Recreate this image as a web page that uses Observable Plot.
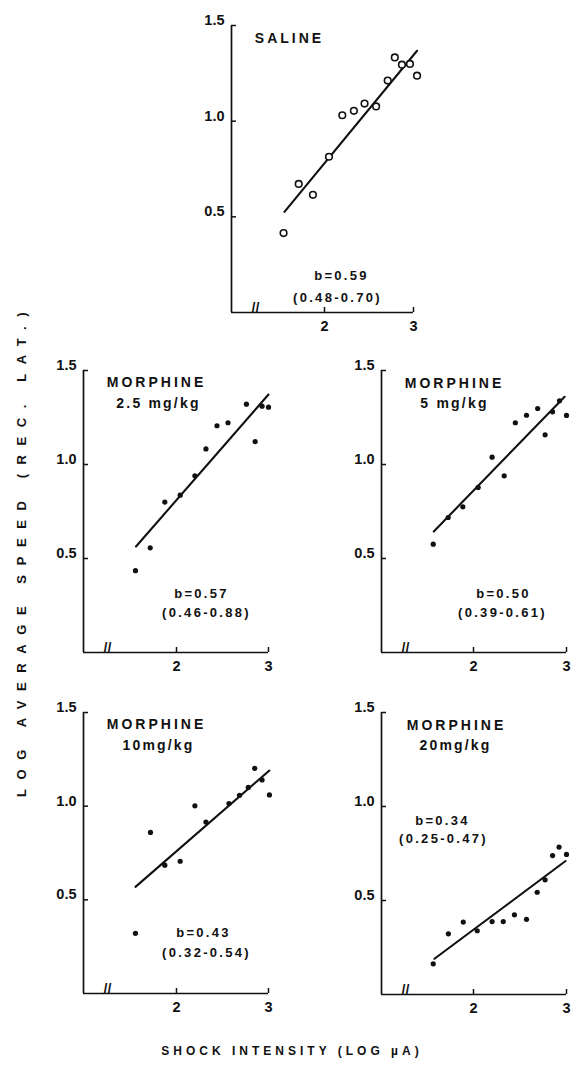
<!DOCTYPE html>
<html><head><meta charset="utf-8">
<script src="https://cdn.jsdelivr.net/npm/d3@7"></script>
<script src="https://cdn.jsdelivr.net/npm/@observablehq/plot@0.6"></script>
<style>
html,body{margin:0;padding:0;background:#fff;}
#root{position:relative;width:571px;height:1072px;overflow:hidden;font-family:"Liberation Sans",Arial,sans-serif;}
#root svg{position:absolute;}
</style></head><body><div id="root"></div>
<script>
// ---------- data (log shock intensity, log average speed) ----------
const salineX = [1.54, 1.71, 1.87, 2.05, 2.20, 2.33, 2.45, 2.58, 2.71, 2.79, 2.87, 2.96, 3.04];
const salineY = [0.415, 0.672, 0.615, 0.814, 1.031, 1.054, 1.092, 1.077, 1.212, 1.333, 1.295, 1.299, 1.238];
const salineFitX = [1.55, 3.04];
const salineFitY = [0.526, 1.368];

const m25X = [1.554, 1.714, 1.873, 2.04, 2.20, 2.32, 2.44, 2.56, 2.76, 2.855, 2.93, 3.00];
const m25Y = [0.435, 0.557, 0.80, 0.837, 0.94, 1.083, 1.206, 1.222, 1.321, 1.122, 1.31, 1.305];
const m25FitX = [1.56, 3.00];
const m25FitY = [0.564, 1.372];

const m5X = [1.567, 1.728, 1.885, 2.05, 2.20, 2.33, 2.45, 2.57, 2.69, 2.77, 2.85, 2.925, 3.00];
const m5Y = [0.576, 0.718, 0.775, 0.878, 1.039, 0.94, 1.222, 1.262, 1.298, 1.158, 1.28, 1.339, 1.261];
const m5FitX = [1.573, 2.98];
const m5FitY = [0.644, 1.36];

const m10X = [1.554, 1.717, 1.873, 2.04, 2.20, 2.32, 2.57, 2.685, 2.78, 2.85, 2.93, 3.01];
const m10Y = [0.321, 0.86, 0.685, 0.706, 1.002, 0.915, 1.014, 1.058, 1.10, 1.202, 1.14, 1.06];
const m10FitX = [1.554, 3.01];
const m10FitY = [0.569, 1.19];

const m20X = [1.567, 1.73, 1.89, 2.04, 2.20, 2.32, 2.44, 2.57, 2.685, 2.77, 2.85, 2.92, 3.00];
const m20Y = [0.163, 0.323, 0.385, 0.339, 0.388, 0.388, 0.424, 0.40, 0.544, 0.61, 0.739, 0.784, 0.745];
const m20FitX = [1.58, 2.99];
const m20FitY = [0.19, 0.71];

const yTicks = [0.5, 1.0, 1.5];
const xTicks = [2, 3];
const titles = {
  saline: ["SALINE"],
  m25: ["MORPHINE", "2.5 mg/kg"],
  m5: ["MORPHINE", "5 mg/kg"],
  m10: ["MORPHINE", "10mg/kg"],
  m20: ["MORPHINE", "20mg/kg"]
};
const slopes = {
  saline: ["b=0.59", "(0.48-0.70)"],
  m25: ["b=0.57", "(0.46-0.88)"],
  m5: ["b=0.50", "(0.39-0.61)"],
  m10: ["b=0.43", "(0.32-0.54)"],
  m20: ["b=0.34", "(0.25-0.47)"]
};
const yLabel = "LOG AVERAGE SPEED (REC. LAT.)";
const xLabel = "SHOCK INTENSITY (LOG \u00b5A)";

// ---------- layout (pixel positions of axes, styling only) ----------
const layout = [
  {key:"saline", xs:salineX, ys:salineY, fx:salineFitX, fy:salineFitY, open:true,
   axisX:231, x2:324, x3:413, y15:25, y0:312,
   title:[[58,13]], slope:[[110,-37],[106,-15]], slopeAnchor:"bottom-left"},
  {key:"m25", xs:m25X, ys:m25Y, fx:m25FitX, fy:m25FitY,
   axisX:83, x2:176, x3:268, y15:370, y0:652,
   title:[[73,12],[75,33]], slope:[[118,-59],[123,-40]], slopeAnchor:"bottom-left"},
  {key:"m5", xs:m5X, ys:m5Y, fx:m5FitX, fy:m5FitY,
   axisX:381, x2:473, x3:566, y15:370, y0:652,
   title:[[73,13],[73,33]], slope:[[122,-59],[121,-40]], slopeAnchor:"bottom-left"},
  {key:"m10", xs:m10X, ys:m10Y, fx:m10FitX, fy:m10FitY,
   axisX:83, x2:176, x3:268, y15:712, y0:993,
   title:[[73,12],[75,33]], slope:[[120,-61],[123,-41]], slopeAnchor:"bottom-left"},
  {key:"m20", xs:m20X, ys:m20Y, fx:m20FitX, fy:m20FitY,
   axisX:381, x2:473, x3:566, y15:712, y0:994,
   title:[[75,13],[74,33]], slope:[[61,108],[62,126]], slopeAnchor:"top-left"}
];

const root = document.getElementById("root");
const ML = 45, MR = 14, MT = 12, MB = 26;

for (const p of layout) {
  const xmin = 2 - (p.x2 - p.axisX) / (p.x3 - p.x2);
  const W = ML + (p.x3 - p.axisX) + MR;
  const H = MT + (p.y0 - p.y15) + MB;
  const pts = p.xs.map((x, i) => ({x, y: p.ys[i]}));
  const fit = p.fx.map((x, i) => ({x, y: p.fy[i]}));
  const tl = titles[p.key].map((t, i) => ({t, i}));
  const sl = slopes[p.key].map((t, i) => ({t, i}));
  const marks = [
    Plot.ruleX([xmin], {stroke:"#111", strokeWidth:1.7}),
    Plot.ruleY([0], {stroke:"#111", strokeWidth:1.7}),
    Plot.axisY({ticks:yTicks, tickSize:5, dx:5, tickFormat:() => "", stroke:"#111", strokeWidth:1.5}),
    Plot.axisY({ticks:yTicks, tickSize:0, tickPadding:7, dy:-5, tickFormat:d3.format(".1f"), fill:"#111", fontSize:14.5, fontWeight:"bold"}),
    Plot.axisX({ticks:xTicks, tickSize:5, dy:-5, tickFormat:() => "", stroke:"#111", strokeWidth:1.5}),
    Plot.axisX({ticks:xTicks, tickSize:0, tickPadding:8, tickFormat:d => String(d), fill:"#111", fontSize:14.5, fontWeight:"bold"}),
    Plot.text(["//"], {text:d => d, frameAnchor:"bottom-left", dx:20, dy:0, fontSize:14, fontWeight:"bold", fill:"#111"}),
    Plot.line(fit, {x:"x", y:"y", stroke:"#111", strokeWidth:2.1}),
    p.open
      ? Plot.dot(pts, {x:"x", y:"y", r:3.3, stroke:"#111", strokeWidth:1.6, fill:"white"})
      : Plot.dot(pts, {x:"x", y:"y", r:2.6, fill:"#111", stroke:"none"}),
    ...tl.map(d => Plot.text([d], {text:"t", frameAnchor:"top-left", dx:p.title[d.i][0], dy:p.title[d.i][1],
        textAnchor:"middle", lineAnchor:"middle", fontSize:14, fontWeight:"bold", fill:"#111"})),
    ...sl.map(d => Plot.text([d], {text:"t", frameAnchor:p.slopeAnchor, dx:p.slope[d.i][0], dy:p.slope[d.i][1],
        textAnchor:"middle", lineAnchor:"middle", fontSize:13, fontWeight:"bold", fill:"#111"}))
  ];
  const svg = Plot.plot({
    width: W, height: H,
    marginLeft: ML, marginRight: MR, marginTop: MT, marginBottom: MB,
    x: {domain:[xmin, 3], label:null},
    y: {domain:[0, 1.5], label:null},
    style: {background:"transparent", fontFamily:"'Liberation Sans', Arial, sans-serif", overflow:"visible"},
    marks
  });
  svg.style.left = (p.axisX - ML) + "px";
  svg.style.top = (p.y15 - MT) + "px";
  svg.style.maxWidth = "none";
  const tset = new Set(titles[p.key]);
  const sset = new Set(slopes[p.key]);
  d3.select(svg).selectAll("text").each(function() {
    const s = this.textContent;
    if (tset.has(s)) d3.select(this).attr("letter-spacing", s === "MORPHINE" || s === "SALINE" ? "3px" : "2.2px");
    else if (sset.has(s)) d3.select(this).attr("letter-spacing", "2.3px");
  });
  root.appendChild(svg);
}

// overall axis titles
const over = d3.select(root).append("svg")
  .attr("width", 571).attr("height", 1072)
  .style("left", "0px").style("top", "0px").style("pointer-events", "none")
  .style("font-family", "'Liberation Sans', Arial, sans-serif");
over.append("text")
  .attr("transform", "translate(23,550) rotate(-90)")
  .attr("text-anchor", "middle").attr("dominant-baseline", "middle")
  .attr("font-size", 13).attr("font-weight", "bold").attr("letter-spacing", "9.6px")
  .attr("fill", "#111").text(yLabel);
over.append("text")
  .attr("x", 292).attr("y", 1052)
  .attr("text-anchor", "middle").attr("dominant-baseline", "middle")
  .attr("font-size", 12).attr("font-weight", "bold").attr("letter-spacing", "4px")
  .attr("fill", "#111").text(xLabel);
</script>
</body></html>
